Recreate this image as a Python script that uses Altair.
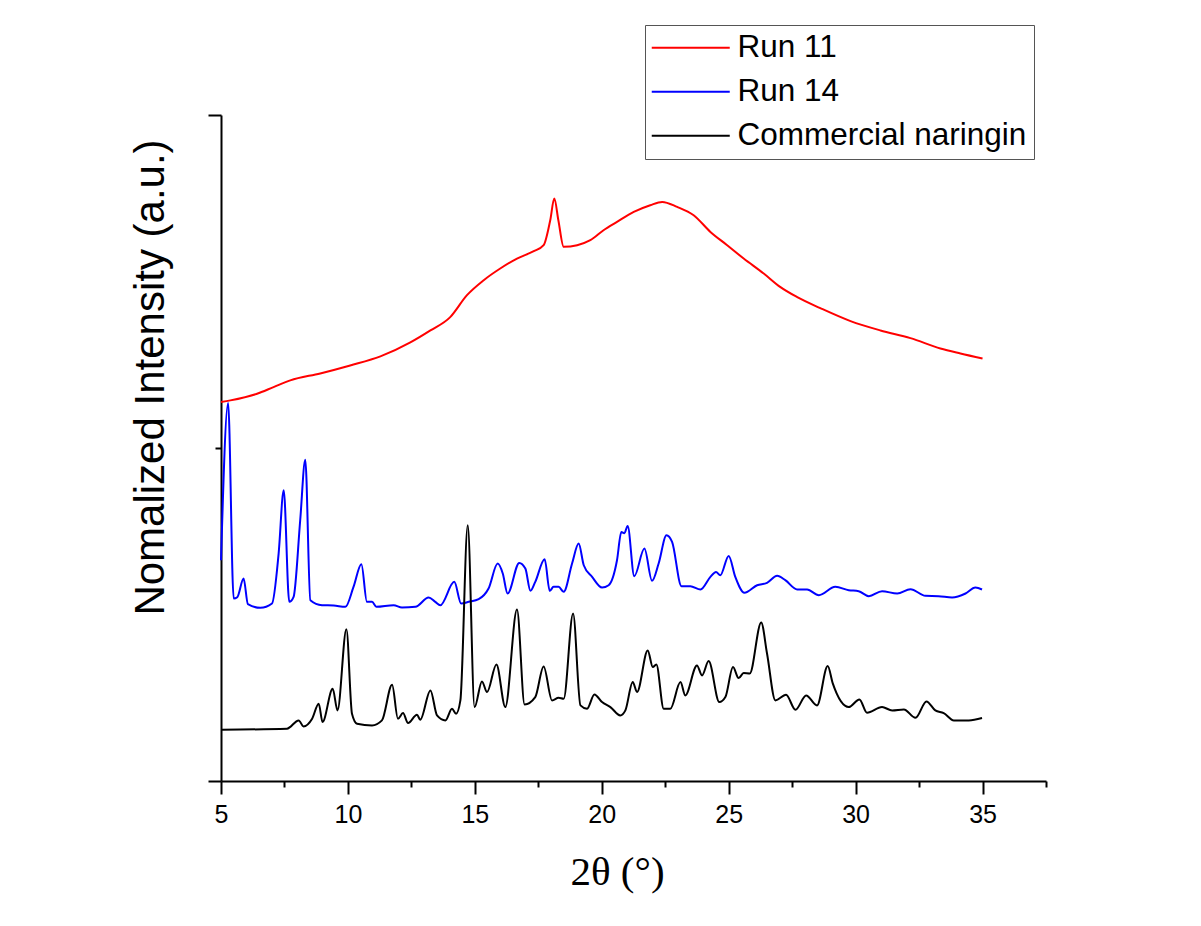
import altair as alt
import pandas as pd

# ---- data (2θ in degrees, normalized intensity, stacked offsets) ----
run11_x = [5.00, 5.37, 6.42, 7.07, 7.73, 8.91, 10.09, 11.28, 12.46, 13.25, 14.03, 14.69,
           15.35, 16.00, 16.66, 17.32, 17.71, 17.97, 18.13, 18.29, 18.50, 19.03, 19.55,
           20.07, 20.60, 21.26, 21.91, 22.38, 22.97, 23.62, 24.28, 24.94, 25.59, 26.38,
           27.04, 27.70, 28.61, 29.80, 30.98, 32.16, 33.34, 34.13, 35.00]
run11_y = [1.138, 1.143, 1.163, 1.183, 1.203, 1.224, 1.248, 1.275, 1.317, 1.353, 1.393, 1.459,
           1.504, 1.539, 1.569, 1.591, 1.609, 1.684, 1.749, 1.684, 1.604, 1.609, 1.624,
           1.654, 1.679, 1.709, 1.729, 1.739, 1.724, 1.699, 1.649, 1.609, 1.569, 1.524,
           1.483, 1.453, 1.420, 1.381, 1.353, 1.330, 1.299, 1.284, 1.269]

run14_x = [5.00, 5.28, 5.50, 5.64, 5.89, 6.06, 6.55, 7.01, 7.27, 7.47, 7.69, 7.86, 8.12, 8.32,
           8.52, 8.98, 9.44, 9.90, 10.22, 10.53, 10.75, 10.95, 11.12, 11.80, 12.13, 12.66,
           13.18, 13.44, 13.64, 14.19, 14.46, 14.76, 15.15, 15.54, 15.90, 16.10, 16.29,
           16.75, 16.99, 17.19, 17.38, 17.75, 17.95, 18.10, 18.30, 18.50, 18.83, 19.09,
           19.29, 19.62, 20.01, 20.27, 20.60, 20.77, 20.89, 21.02, 21.28, 21.68, 21.98,
           22.24, 22.55, 22.77, 23.14, 23.49, 23.89, 24.28, 24.50, 24.67, 25.00, 25.26,
           25.62, 26.12, 26.51, 26.91, 27.23, 27.70, 28.09, 28.55, 29.20, 29.73, 30.12,
           30.52, 31.04, 31.64, 32.16, 32.75, 33.27, 33.80, 34.33, 34.72, 34.98]
run14_y = [0.663, 1.135, 0.548, 0.552, 0.608, 0.531, 0.520, 0.533, 0.683, 0.873, 0.538, 0.553,
           0.783, 0.965, 0.543, 0.528, 0.527, 0.523, 0.583, 0.651, 0.538, 0.538, 0.523, 0.528,
           0.521, 0.523, 0.551, 0.538, 0.528, 0.598, 0.533, 0.538, 0.546, 0.578, 0.653,
           0.623, 0.563, 0.655, 0.638, 0.571, 0.598, 0.666, 0.571, 0.583, 0.583, 0.568,
           0.653, 0.713, 0.648, 0.613, 0.581, 0.588, 0.663, 0.748, 0.744, 0.766, 0.615,
           0.698, 0.601, 0.653, 0.738, 0.718, 0.585, 0.585, 0.575, 0.613, 0.628, 0.618,
           0.676, 0.613, 0.565, 0.588, 0.595, 0.616, 0.603, 0.575, 0.575, 0.558, 0.583,
           0.573, 0.570, 0.555, 0.570, 0.563, 0.576, 0.556, 0.555, 0.551, 0.563, 0.581, 0.575]

naringin_x = [5.04, 7.60, 8.06, 8.25, 8.59, 8.85, 9.00, 9.40, 9.59, 9.94, 10.16, 10.36, 10.95,
              11.34, 11.74, 11.97, 12.17, 12.37, 12.72, 12.85, 13.25, 13.51, 13.84, 14.10,
              14.26, 14.43, 14.72, 14.99, 15.28, 15.48, 15.85, 16.20, 16.66, 16.96, 17.38,
              17.71, 18.04, 18.30, 18.50, 18.87, 19.16, 19.42, 19.71, 20.01, 20.34, 20.73,
              20.93, 21.22, 21.39, 21.81, 22.01, 22.15, 22.44, 22.70, 23.10, 23.29, 23.75,
              23.95, 24.21, 24.63, 24.87, 25.17, 25.39, 25.59, 25.83, 26.28, 26.51, 26.84,
              27.26, 27.63, 28.05, 28.48, 28.90, 29.10, 29.73, 30.15, 30.45, 31.04, 31.44,
              31.90, 32.36, 32.79, 33.14, 33.47, 33.87, 34.46, 34.98]
naringin_y = [0.154, 0.157, 0.182, 0.164, 0.187, 0.232, 0.177, 0.277, 0.212, 0.456, 0.202, 0.172,
              0.167, 0.182, 0.289, 0.187, 0.204, 0.174, 0.199, 0.184, 0.272, 0.197, 0.182, 0.217,
              0.202, 0.242, 0.768, 0.222, 0.299, 0.267, 0.350, 0.222, 0.515, 0.230, 0.252,
              0.344, 0.242, 0.250, 0.247, 0.503, 0.227, 0.217, 0.260, 0.237, 0.222, 0.197,
              0.212, 0.297, 0.267, 0.392, 0.342, 0.350, 0.217, 0.217, 0.297, 0.257, 0.347,
              0.317, 0.360, 0.237, 0.252, 0.342, 0.309, 0.324, 0.323, 0.476, 0.383, 0.242,
              0.259, 0.214, 0.257, 0.227, 0.345, 0.293, 0.222, 0.245, 0.205, 0.222, 0.212,
              0.215, 0.190, 0.239, 0.212, 0.204, 0.182, 0.182, 0.189]

series_names = ["Run 11", "Run 14", "Commercial naringin"]
series_colors = ["#FF0000", "#0000FF", "#000000"]
x_ticks = [5, 7.5, 10, 12.5, 15, 17.5, 20, 22.5, 25, 27.5, 30, 32.5, 35, 37.5]
y_ticks = [0, 1, 2]

rows = []
for name, xs, ys in [("Run 11", run11_x, run11_y),
                     ("Run 14", run14_x, run14_y),
                     ("Commercial naringin", naringin_x, naringin_y)]:
    for i, (xv, yv) in enumerate(zip(xs, ys)):
        rows.append({"series": name, "two_theta": xv, "intensity": yv, "idx": i})
df = pd.DataFrame(rows)

legend = alt.Legend(
    title=None, orient="none", legendX=424, legendY=-90,
    symbolType="M-6,0H6", symbolSize=169, symbolStrokeWidth=2, symbolOffset=23,
    labelOffset=31, labelFontSize=31.5, labelFont="Liberation Sans", labelColor="black",
    labelLimit=0, padding=7, rowPadding=11, strokeColor="#555555", fillColor="white",
)

chart = alt.Chart(df).mark_line(strokeWidth=2, interpolate="monotone").encode(
    x=alt.X("two_theta:Q",
            scale=alt.Scale(domain=[5, 37.5], nice=False, zero=False),
            axis=alt.Axis(values=x_ticks,
                          labelExpr="datum.value % 5 === 0 ? datum.label : ''",
                          tickSize=13,
                          tickDash={"condition": {"test": "datum.value % 5 === 0", "value": [13, 30]},
                                    "value": [6, 30]},
                          tickWidth=2, tickColor="black", domainWidth=2, domainColor="black",
                          labelFont="Liberation Sans", labelFontSize=25, labelColor="black",
                          labelPadding=8, labelFlush=False, labelOverlap=False, grid=False,
                          titleFont="Liberation Serif", titleFontSize=41, titleFontWeight="normal",
                          titleColor="black", titleX=396, titleY=103, titleBaseline="alphabetic",
                          titleAlign="center"),
            title="2θ (°)"),
    y=alt.Y("intensity:Q",
            scale=alt.Scale(domain=[0, 2], nice=False, zero=False),
            axis=alt.Axis(values=y_ticks, labels=False,
                          tickSize=13,
                          tickDash={"condition": {"test": "datum.value === 1", "value": [6, 30]},
                                    "value": [13, 30]},
                          tickWidth=2, tickColor="black", domainWidth=2, domainColor="black",
                          grid=False, titleFont="Liberation Sans", titleFontSize=42,
                          titleFontWeight="normal", titleColor="black", titleX=-58, titleY=262,
                          titleBaseline="alphabetic", titleAlign="center"),
            title="Nomalized Intensity (a.u.)"),
    color=alt.Color("series:N", scale=alt.Scale(domain=series_names, range=series_colors),
                    legend=legend),
    order="idx:Q",
).properties(
    width=825, height=666,
    background="white",
    autosize=alt.AutoSizeParams(type="none"),
    padding={"left": 221, "top": 115, "right": 155, "bottom": 145},
).configure_view(strokeWidth=0, stroke=None)

chart.save("out.html", embed_options={"renderer": "svg", "actions": False})
